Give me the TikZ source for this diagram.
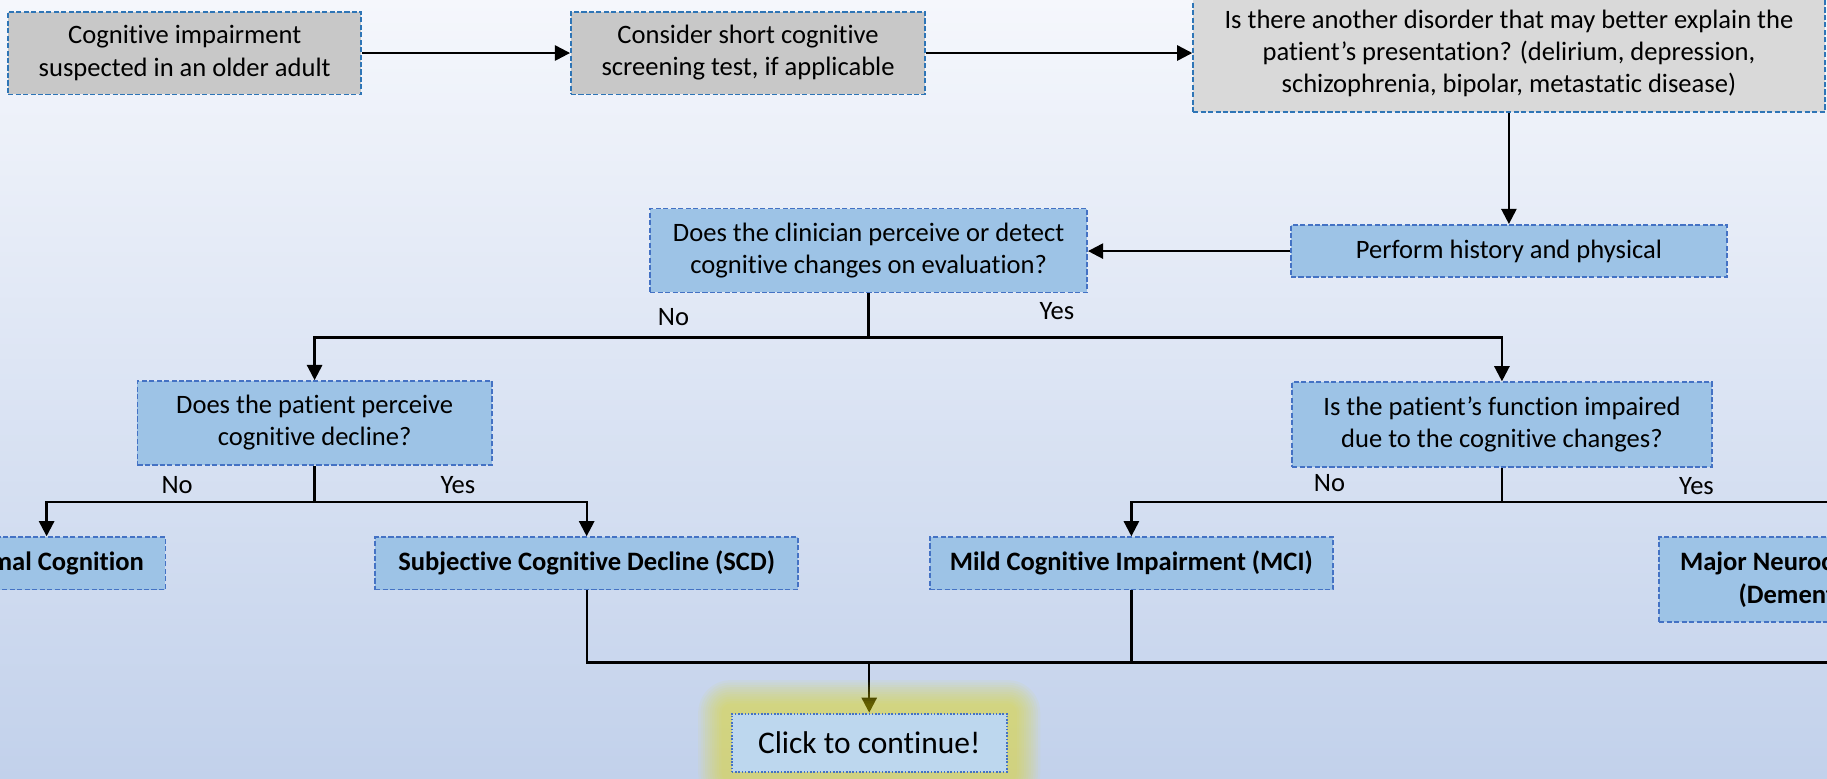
\documentclass[tikz,border=0pt]{standalone}
\usepackage{fontspec}
\setmainfont{Carlito}[RawFeature=-liga]
\usetikzlibrary{arrows.meta,calc}

\definecolor{bgtop}{RGB}{245,247,252}
\definecolor{bgbot}{RGB}{194,209,235}
\definecolor{greyA}{RGB}{200,200,200}
\definecolor{greyB}{RGB}{217,217,217}
\definecolor{edgeA}{RGB}{46,117,182}
\definecolor{edgeB}{RGB}{68,114,196}
\definecolor{boxblue}{RGB}{157,195,230}
\definecolor{clickblue}{RGB}{189,215,238}
\definecolor{glowyellow}{RGB}{238,228,0}

\pgfdeclarelayer{bg}
\pgfdeclarelayer{glow}
\pgfdeclarelayer{front}
\pgfsetlayers{bg,main,glow,front}

\tikzset{
  base/.style={inner sep=0pt, align=center, font=\fontsize{11.4}{13.75}\selectfont,
    line width=0.75pt, dash pattern=on 2.2pt off 1pt},
  greybox/.style={base, draw=edgeA, fill=greyA},
  bluebox/.style={base, draw=edgeB, fill=boxblue},
  result/.style={bluebox, font=\fontsize{11.4}{13.75}\selectfont\bfseries},
  clickbox/.style={base, draw=edgeB, fill=clickblue, dash pattern=on 0.7pt off 0.7pt,
    line width=0.8pt, font=\fontsize{13.5}{16}\selectfont},
  flow/.style={draw=black, line width=1pt, -{Triangle[width=6.5pt,length=6.5pt]}},
  link/.style={draw=black, line width=1pt},
  answer/.style={inner sep=0pt, font=\fontsize{11.4}{13.75}\selectfont},
}

\begin{document}
\begin{tikzpicture}[x=0.5pt,y=-0.5pt]
\begin{pgfonlayer}{bg}
  \shade[top color=bgtop, bottom color=bgbot] (0,0) rectangle (1568,668);
\end{pgfonlayer}
\useasboundingbox (0,0) rectangle (1568,668);

% top row
\node[greybox, minimum width=151.5pt, minimum height=35.5pt] (suspect) at (158.5,45.5)
  {Cognitive impairment\\suspected in an older adult};
\node[greybox, minimum width=152pt, minimum height=35.5pt] (screen) at (642,45.5)
  {Consider short cognitive\\screening test, if applicable};
\node[greybox, fill=greyB, minimum width=271pt, minimum height=50pt] (other) at (1295,46)
  {Is there another disorder that may better explain the\\patient’s presentation? (delirium, depression,\\schizophrenia, bipolar, metastatic disease)};

% evaluation
\node[bluebox, minimum width=187pt, minimum height=22.5pt] (history) at (1295,215.5)
  {Perform history and physical};
\node[bluebox, minimum width=187.5pt, minimum height=36pt] (clinician) at (745.5,215)
  {Does the clinician perceive or detect\\cognitive changes on evaluation?};

% questions
\node[bluebox, minimum width=152pt, minimum height=36pt] (patient) at (270,363)
  {Does the patient perceive\\cognitive decline?};
\node[bluebox, minimum width=180pt, minimum height=36.5pt] (function) at (1289,364.5)
  {Is the patient’s function impaired\\due to the cognitive changes?};

% outcomes
\node[result, minimum width=102pt, minimum height=22.5pt] (normal) at (40,483.5)
  {Normal Cognition};
\node[result, minimum width=181.5pt, minimum height=22.5pt] (scd) at (503.5,483.5)
  {Subjective Cognitive Decline (SCD)};
\node[result, minimum width=173pt, minimum height=22.5pt] (mci) at (971,483.5)
  {Mild Cognitive Impairment (MCI)};
\node[result, minimum width=121.5pt, minimum height=36.5pt] (major) at (1545.5,497.5)
  {Major Neurocognitive\\(Dementia)};

\begin{pgfonlayer}{front}
  \node[clickbox, minimum width=118pt, minimum height=25pt] (click) at (746,637.5)
    {Click to continue!};
\end{pgfonlayer}

% connectors
\draw[flow] (suspect.east) -- (suspect.east -| screen.west);
\draw[flow] (screen.east) -- (screen.east -| other.west);
\draw[flow] (other.south) -- (other.south |- history.north);
\draw[flow] (history.west) -- (history.west -| clinician.east);

\draw[flow] (clinician.south) -- ++(0,38) coordinate (split1) -| (patient.north);
\draw[flow] (split1) -| (function.north);

\draw[flow] (patient.south) -- ++(0,31) coordinate (split2) -| (normal.north);
\draw[flow] (split2) -| (scd.north);

\draw[flow] (function.south) -- ++(0,29) coordinate (split3) -| (mci.north);
\draw[flow] (split3) -| ([xshift=31pt]major.north);

\path (click.north) ++(0,-43) coordinate (merge);
\draw[link] (scd.south) |- (merge);
\draw[link] (mci.south) |- (merge);
\draw[link] ([xshift=31pt]major.south) |- (merge);
\draw[flow] (merge) -- (click.north);

% answers
\node[answer] (no1) at (578,272) {No};
\node[answer] (yes1) at (907,267) {Yes};
\node[answer] (no2) at (152,416) {No};
\node[answer] (yes2) at (393,416) {Yes};
\node[answer] (no3) at (1141,415) {No};
\node[answer] (yes3) at (1456,417) {Yes};

% soft halo around the continue button
\begin{pgfonlayer}{glow}
  \foreach \e [evaluate=\e as \r using \e*0.5] in {8,10,...,28} {
    \fill[glowyellow, opacity=0.05, rounded corners=\r pt]
      ([shift={(-\e,-\e)}]click.north west) rectangle ([shift={(\e,\e)}]click.south east);
  }
\end{pgfonlayer}
\end{tikzpicture}
\end{document}
